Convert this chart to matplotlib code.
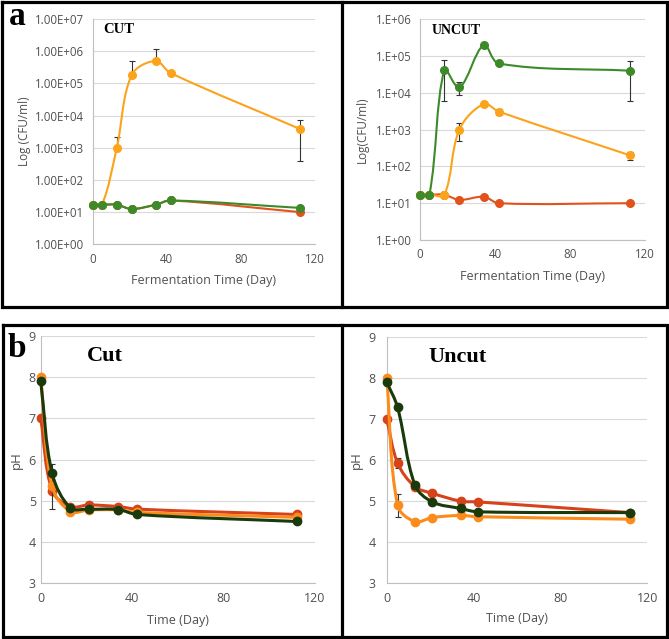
import numpy as np
import matplotlib
matplotlib.use("Agg")
import matplotlib.pyplot as plt
from matplotlib.path import Path
from matplotlib.patches import PathPatch
from matplotlib.lines import Line2D

# ---- data -------------------------------------------------------------
days = [0, 5, 13, 21, 34, 42, 112]

# (a) CFU counts, CUT
cut_red = [17, 17, 17, 12.5, 17, 23, 10]
cut_orange = [17, 17, 1000, 1.8e5, 5e5, 2.1e5, 3.8e3]
cut_orange_err = [0, 0, 1.2e3, 3.2e5, 6.5e5, 0, 3.4e3]
cut_green = [17, 17, 17, 12.5, 17, 23, 13.5]

# (a) CFU counts, UNCUT
uncut_red = [17, 17, 17, 12.3, 15, 10, 10]
uncut_orange = [17, 17, 17, 1000, 5000, 3100, 200]
uncut_orange_err = [0, 0, 0, 500, 0, 650, 50]
uncut_green = [17, 17, 4.2e4, 1.4e4, 2e5, 6.3e4, 4e4]
uncut_green_err = [0, 0, 3.6e4, 5.5e3, 0, 0, 3.4e4]

# (b) pH, Cut
ph_cut_red = [7.0, 5.25, 4.86, 4.90, 4.86, 4.80, 4.67]
ph_cut_orange = [8.0, 5.35, 4.74, 4.78, 4.78, 4.72, 4.60]
ph_cut_orange_err = [0, 0.55, 0, 0, 0, 0, 0]
ph_cut_green = [7.9, 5.67, 4.83, 4.80, 4.79, 4.67, 4.50]

# (b) pH, Uncut
ph_uncut_red = [7.0, 5.93, 5.35, 5.19, 5.00, 4.98, 4.72]
ph_uncut_red_err = [0, 0.13, 0, 0.06, 0, 0, 0]
ph_uncut_orange = [8.0, 4.90, 4.50, 4.60, 4.65, 4.62, 4.56]
ph_uncut_orange_err = [0, 0.28, 0, 0, 0, 0, 0]
ph_uncut_green = [7.9, 7.28, 5.39, 4.98, 4.82, 4.74, 4.72]
ph_uncut_green_err = [0, 0, 0, 0.08, 0, 0, 0]

cut_yticks = [1e0, 1e1, 1e2, 1e3, 1e4, 1e5, 1e6, 1e7]
cut_ylabels = ["1.00E+00", "1.00E+01", "1.00E+02", "1.00E+03",
               "1.00E+04", "1.00E+05", "1.00E+06", "1.00E+07"]
uncut_yticks = [1e0, 1e1, 1e2, 1e3, 1e4, 1e5, 1e6]
uncut_ylabels = ["1.E+00", "1.E+01", "1.E+02", "1.E+03",
                 "1.E+04", "1.E+05", "1.E+06"]
xticks = [0, 40, 80, 120]
ph_ticks = [3, 4, 5, 6, 7, 8, 9]

TOP = {"red": "#E2521D", "orange": "#FBA31B", "green": "#3D8A2B"}
BOT = {"red": "#D6431A", "orange": "#FB8C1C", "green": "#1B3A0C"}
GRAY = "#505050"
W, H = 669, 639


def smooth_path(ax, x, y, s=0.35):
    """Excel-like smoothed line: cubic Bezier segments built in display space."""
    pts = ax.transData.transform(np.column_stack([x, y]))
    n = len(pts)
    verts = [pts[0]]
    codes = [Path.MOVETO]
    for i in range(n - 1):
        p0, p1 = pts[max(i - 1, 0)], pts[i]
        p2, p3 = pts[i + 1], pts[min(i + 2, n - 1)]
        d01 = np.hypot(*(p1 - p0))
        d12 = np.hypot(*(p2 - p1))
        d23 = np.hypot(*(p3 - p2))
        t1 = (p2 - p0) / max(d01 + d12, 1e-9)
        t2 = (p3 - p1) / max(d12 + d23, 1e-9)
        verts += [p1 + t1 * d12 * s, p2 - t2 * d12 * s, p2]
        codes += [Path.CURVE4] * 3
    return Path(ax.transData.inverted().transform(np.array(verts)), codes)


def draw_series(ax, y, color, lw, ms, z, err=None):
    ax.add_patch(PathPatch(smooth_path(ax, days, y), facecolor="none",
                           edgecolor=color, lw=lw, zorder=z, clip_on=False,
                           capstyle="round", joinstyle="round"))
    if err is not None:
        y = np.asarray(y, float)
        e = np.asarray(err, float)
        m = e > 0
        lo = np.where(e < y, e, 0)
        ax.errorbar(np.asarray(days)[m], y[m], yerr=[lo[m], e[m]], fmt="none",
                    ecolor="#333333", elinewidth=0.8, capsize=2.2,
                    capthick=0.8, zorder=z - 0.5, clip_on=False)
    ax.plot(days, y, "o", color=color, ms=ms, mec=color, zorder=z + 0.1,
            clip_on=False)


def px_axes(x0, y0, x1, y1):
    return fig.add_axes([x0 / W, 1 - y1 / H, (x1 - x0) / W, (y1 - y0) / H])


def style(ax, ylabel, xlabel, ylab_x, xlab_y, ypad, tsize, ysize=8.5):
    for side in ("top", "right"):
        ax.spines[side].set_visible(False)
    for side in ("left", "bottom"):
        ax.spines[side].set_color("#BFBFBF")
        ax.spines[side].set_linewidth(0.8)
    ax.grid(axis="y", color="#D9D9D9", lw=0.8)
    ax.set_axisbelow(True)
    ax.tick_params(length=0, labelsize=tsize, labelcolor=GRAY)
    ax.tick_params(axis="x", pad=6)
    ax.tick_params(axis="y", pad=ypad)
    ax.set_xlim(0, 120)
    ax.set_xticks(xticks)
    ax.set_ylabel(ylabel, fontsize=ysize, color=GRAY)
    ax.set_xlabel(xlabel, fontsize=9, color=GRAY)
    ax.yaxis.set_label_coords(ylab_x, 0.5)
    ax.xaxis.set_label_coords(0.5, xlab_y)


plt.rcParams["font.family"] = ["Open Sans", "DejaVu Sans"]
fig = plt.figure(figsize=(W / 100, H / 100), dpi=100)

# ---- (a) CUT ----
ax1 = px_axes(92.7, 19, 315, 244.3)
ax1.set_yscale("log")
ax1.set_ylim(1, 1e7)
ax1.set_yticks(cut_yticks, cut_ylabels)
ax1.minorticks_off()
style(ax1, "Log (CFU/ml)", "Fermentation Time (Day)", -0.278, -0.132, 6, 8.3)
draw_series(ax1, cut_red, TOP["red"], 1.5, 5.5, 3)
draw_series(ax1, cut_orange, TOP["orange"], 1.5, 5.5, 4, cut_orange_err)
draw_series(ax1, cut_green, TOP["green"], 1.5, 5.5, 5)

# ---- (a) UNCUT ----
ax2 = px_axes(420, 19.3, 645, 240)
ax2.set_yscale("log")
ax2.set_ylim(1, 1e6)
ax2.set_yticks(uncut_yticks, uncut_ylabels)
ax2.minorticks_off()
style(ax2, "Log(CFU/ml)", "Fermentation Time (Day)", -0.227, -0.136, 6, 8.3)
draw_series(ax2, uncut_red, TOP["red"], 1.5, 5.5, 3)
draw_series(ax2, uncut_orange, TOP["orange"], 1.5, 5.5, 4, uncut_orange_err)
draw_series(ax2, uncut_green, TOP["green"], 1.5, 5.5, 5, uncut_green_err)

# ---- (b) Cut ----
ax3 = px_axes(40.7, 336, 315, 583.3)
ax3.set_ylim(3, 9)
ax3.set_yticks(ph_ticks)
style(ax3, "pH", "Time (Day)", -0.065, -0.124, 3.5, 9, 9.5)
draw_series(ax3, ph_cut_red, BOT["red"], 2.2, 6, 3)
draw_series(ax3, ph_cut_orange, BOT["orange"], 2.2, 6, 4, ph_cut_orange_err)
draw_series(ax3, ph_cut_green, BOT["green"], 2.2, 6, 5)

# ---- (b) Uncut ----
ax4 = px_axes(386.7, 336.7, 647.3, 583.3)
ax4.set_ylim(3, 9)
ax4.set_yticks(ph_ticks)
style(ax4, "pH", "Time (Day)", -0.092, -0.116, 8, 9, 9.5)
draw_series(ax4, ph_uncut_red, BOT["red"], 2.2, 6, 3, ph_uncut_red_err)
draw_series(ax4, ph_uncut_orange, BOT["orange"], 2.2, 6, 4, ph_uncut_orange_err)
draw_series(ax4, ph_uncut_green, BOT["green"], 2.2, 6, 5, ph_uncut_green_err)

# ---- panel titles and letters ----
serif = ["Liberation Serif", "DejaVu Serif"]


def ftext(x, y, s, size):
    fig.text(x / W, 1 - y / H, s, fontsize=size, fontweight="bold",
             family=serif, va="baseline", ha="left", color="black")


ftext(9, 25, "a", 24)
ftext(8, 357, "b", 24)
ftext(103, 33.3, "CUT", 10.5)
ftext(431.7, 34.3, "UNCUT", 10)
ftext(87, 360.7, "Cut", 16)
ftext(428, 361.7, "Uncut", 16)

# ---- frames ----
def fline(xs, ys):
    fig.add_artist(Line2D(np.array(xs) / W, 1 - np.array(ys) / H,
                          color="black", lw=2.3, transform=fig.transFigure,
                          solid_joinstyle="miter"))


fline([1.5, 666.5, 666.5, 1.5, 1.5], [1.5, 1.5, 307.5, 307.5, 1.5])
fline([342, 342], [1.5, 307.5])
fline([2.5, 666.5, 666.5, 2.5, 2.5], [324.5, 324.5, 637, 637, 324.5])
fline([342, 342], [324.5, 637])

fig.savefig("out.png", dpi=100)
